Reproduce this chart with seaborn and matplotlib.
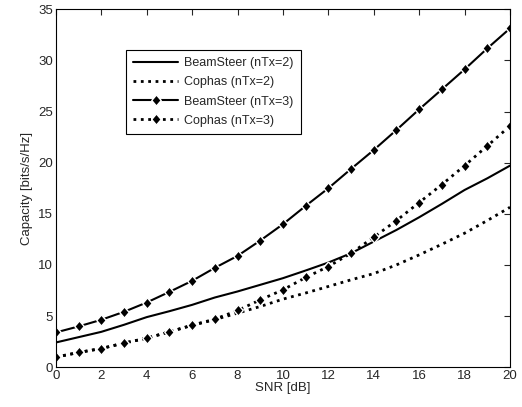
import numpy as np
import pandas as pd
import matplotlib
matplotlib.use("Agg")
import matplotlib.pyplot as plt
import seaborn as sns

# datos
snr = list(range(0, 21))
beam2 = [2.41, 2.93, 3.45, 4.14, 4.89, 5.47, 6.09, 6.81, 7.40, 8.05, 8.70,
         9.45, 10.23, 11.14, 12.28, 13.42, 14.66, 15.97, 17.33, 18.47, 19.71]
cophas2 = [0.98, 1.43, 1.82, 2.35, 2.83, 3.45, 4.08, 4.65, 5.28, 5.93, 6.65,
           7.25, 7.89, 8.54, 9.15, 10.0, 10.98, 12.02, 13.1, 14.34, 15.64]
beam3 = [3.39, 3.98, 4.63, 5.41, 6.32, 7.36, 8.44, 9.71, 10.88, 12.38, 13.98,
         15.77, 17.50, 19.39, 21.24, 23.20, 25.22, 27.17, 29.13, 31.18, 33.14]
cophas3 = [0.98, 1.43, 1.82, 2.35, 2.83, 3.45, 4.11, 4.69, 5.54, 6.58, 7.56,
           8.77, 9.84, 11.14, 12.71, 14.34, 16.10, 17.86, 19.71, 21.64, 23.59]
etiquetas = ['BeamSteer (nTx=2)', 'Cophas (nTx=2)', 'BeamSteer (nTx=3)', 'Cophas (nTx=3)']

sns.set_style("white")
plt.rcParams['font.family'] = ['Liberation Sans', 'DejaVu Sans']

fig = plt.figure(figsize=(5.22, 4.07), dpi=100)
ax = fig.add_axes([0.107, 0.098, 0.870, 0.879])

# rombo un poco mas ancho que 'd'
rombo = [(0, 1), (0.85, 0), (0, -1), (-0.85, 0), (0, 1)]

series = [beam2, cophas2, beam3, cophas3]
estilos = [('-', None), (':', None), ('-', rombo), (':', rombo)]
for valores, etiqueta, (ls, mk) in zip(series, etiquetas, estilos):
    sns.lineplot(x=snr, y=valores, ax=ax, color='black', linestyle=ls,
                 marker=mk, markersize=8, markeredgewidth=1.0,
                 markerfacecolor='black', linewidth=1.5 if ls == '-' else 2.0,
                 label=etiqueta)

ax.set_xlim(0, 20)
ax.set_ylim(0, 35)
ax.set_xticks(range(0, 21, 2))
ax.set_yticks(range(0, 36, 5))
ax.tick_params(direction='in', top=True, right=True, labelsize=9.5, length=4, width=0.8, pad=2)
for s in ax.spines.values():
    s.set_color('black')
    s.set_linewidth(0.8)
ax.set_xlabel('SNR [dB]', fontsize=9.5, labelpad=0)
ax.set_ylabel('Capacity [bits/s/Hz]', fontsize=9.5, labelpad=4)

leg = ax.legend(loc='upper left', bbox_to_anchor=(0.14, 0.905), fontsize=9,
                frameon=True, fancybox=False, edgecolor='black', framealpha=1,
                handlelength=3.6, borderpad=0.6, labelspacing=0.58, handletextpad=0.5)
leg.get_frame().set_linewidth(0.8)

fig.savefig('out.png', dpi=100)
